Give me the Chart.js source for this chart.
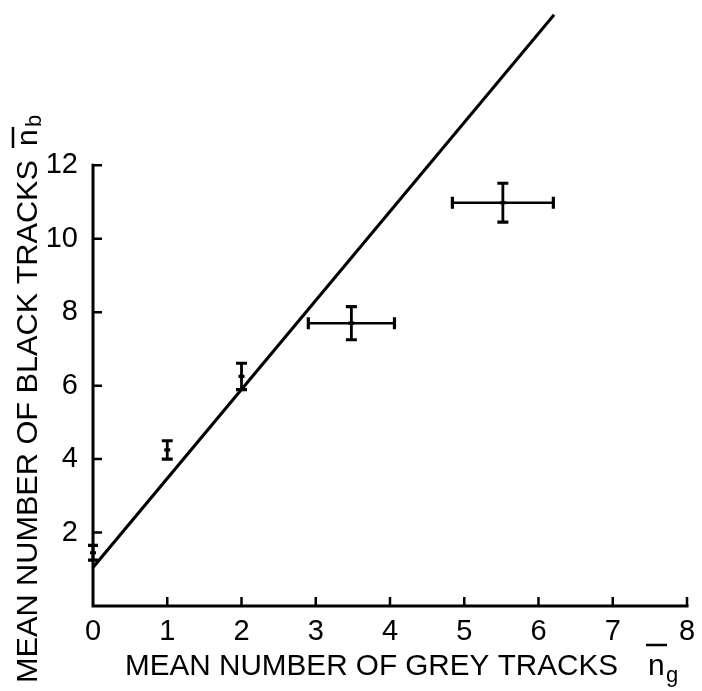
<!DOCTYPE html>
<html>
<head>
<meta charset="utf-8">
<title>Black vs grey tracks</title>
<script src="https://cdn.jsdelivr.net/npm/chart.js@4.4.1/dist/chart.umd.min.js"></script>
<style>
  html, body { margin: 0; padding: 0; background: #fff; }
  #wrap { position: absolute; left: 0; top: 0; width: 702px; height: 691px; }
</style>
</head>
<body>
<div id="wrap"><canvas id="c"></canvas></div>
<script>
// Mean number of grey tracks (x) and black tracks (y), with errors
const ngMean = [0, 1, 2, 3.48, 5.52];
const nbMean = [1.45, 4.25, 6.25, 7.7, 10.98];
const ngErr  = [0, 0, 0, 0.58, 0.68];
const nbErr  = [0.2, 0.25, 0.36, 0.45, 0.53];

// Straight-line fit, end points
const fitNg = [0, 6.21];
const fitNb = [1.05, 16.1];

// Axis ticks
const xTicks = [0, 1, 2, 3, 4, 5, 6, 7, 8];
const yTicks = [2, 4, 6, 8, 10, 12];
const yAxisTop = 12;

const xTitle = 'MEAN NUMBER OF GREY TRACKS';
const yTitle = 'MEAN NUMBER OF BLACK TRACKS';

const INK = '#000';
const FONT = '"Liberation Sans", "DejaVu Sans", sans-serif';

function fitText(ctx, text, targetWidth) {
  const w = ctx.measureText(text).width;
  ctx.save();
  ctx.scale(targetWidth / w, 1);
  ctx.fillText(text, 0, 0);
  ctx.restore();
}

const paperPlugin = {
  id: 'paper',
  beforeDraw(chart) {
    const ctx = chart.ctx;
    ctx.save();
    ctx.fillStyle = '#fff';
    ctx.fillRect(0, 0, chart.width, chart.height);
    ctx.restore();
  }
};

// Axis lines with inward ticks
const axesPlugin = {
  id: 'axesLines',
  afterDraw(chart) {
    const ctx = chart.ctx;
    const xs = chart.scales.x, ys = chart.scales.y;
    const x0 = xs.getPixelForValue(0), y0 = ys.getPixelForValue(0);
    ctx.save();
    ctx.strokeStyle = INK;
    ctx.lineWidth = 3;
    ctx.lineCap = 'square';
    ctx.beginPath();
    ctx.moveTo(x0, ys.getPixelForValue(yAxisTop));
    ctx.lineTo(x0, y0);
    ctx.lineTo(xs.getPixelForValue(xTicks[xTicks.length - 1]), y0);
    ctx.stroke();
    ctx.lineWidth = 2.5;
    ctx.lineCap = 'butt';
    ctx.beginPath();
    xTicks.slice(1).forEach(v => {
      const px = xs.getPixelForValue(v);
      ctx.moveTo(px, y0);
      ctx.lineTo(px, y0 - 9);
    });
    yTicks.forEach(v => {
      const py = ys.getPixelForValue(v);
      ctx.moveTo(x0, py);
      ctx.lineTo(x0 + 9, py);
    });
    ctx.stroke();
    ctx.restore();
  }
};

// Error bars for every measured point
const errorBarPlugin = {
  id: 'errorBars',
  afterDatasetsDraw(chart) {
    const ctx = chart.ctx;
    const xs = chart.scales.x, ys = chart.scales.y;
    ctx.save();
    ctx.strokeStyle = INK;
    ctx.lineCap = 'butt';
    ngMean.forEach((ng, i) => {
      const px = xs.getPixelForValue(ng);
      const py = ys.getPixelForValue(nbMean[i]);
      const top = ys.getPixelForValue(nbMean[i] + nbErr[i]);
      const bot = ys.getPixelForValue(nbMean[i] - nbErr[i]);
      const cap = ng === 0 ? 5 : 5.5;
      ctx.lineWidth = 2.8;
      ctx.beginPath();
      ctx.moveTo(px, top); ctx.lineTo(px, bot);
      ctx.stroke();
      ctx.lineWidth = 3.2;
      ctx.beginPath();
      ctx.moveTo(px - cap, top); ctx.lineTo(px + cap, top);
      ctx.moveTo(px - cap, bot); ctx.lineTo(px + cap, bot);
      ctx.moveTo(px - 3, py); ctx.lineTo(px + 3, py);
      ctx.stroke();
      if (ngErr[i] > 0) {
        const l = xs.getPixelForValue(ng - ngErr[i]);
        const r = xs.getPixelForValue(ng + ngErr[i]);
        ctx.lineWidth = 2.6;
        ctx.beginPath();
        ctx.moveTo(l, py); ctx.lineTo(r, py);
        ctx.stroke();
        ctx.lineWidth = 3.2;
        ctx.beginPath();
        ctx.moveTo(l, py - 6); ctx.lineTo(l, py + 6);
        ctx.moveTo(r, py - 6); ctx.lineTo(r, py + 6);
        ctx.stroke();
      }
    });
    ctx.restore();
  }
};

// Axis titles with barred symbols and subscripts
const titlesPlugin = {
  id: 'axisTitles',
  afterDraw(chart) {
    const ctx = chart.ctx;
    ctx.save();
    ctx.fillStyle = INK;
    ctx.strokeStyle = INK;
    ctx.textAlign = 'left';
    ctx.textBaseline = 'alphabetic';

    // x title
    ctx.font = '30px ' + FONT;
    ctx.save();
    ctx.translate(125, 675);
    fitText(ctx, xTitle, 493);
    ctx.restore();
    ctx.fillText('n', 648, 675);
    ctx.lineWidth = 2.5;
    ctx.beginPath();
    ctx.moveTo(646, 645); ctx.lineTo(667, 645);
    ctx.stroke();
    ctx.font = '22px ' + FONT;
    ctx.fillText('g', 666, 682);

    // y title
    ctx.save();
    ctx.translate(37, 683);
    ctx.rotate(-Math.PI / 2);
    ctx.font = '30px ' + FONT;
    fitText(ctx, yTitle, 523);
    ctx.fillText('n', 537, 0);
    ctx.lineWidth = 2.5;
    ctx.beginPath();
    ctx.moveTo(535, -24); ctx.lineTo(556, -24);
    ctx.stroke();
    ctx.font = '22px ' + FONT;
    ctx.fillText('b', 556, 4);
    ctx.restore();

    ctx.restore();
  }
};

new Chart(document.getElementById('c'), {
  type: 'scatter',
  data: {
    datasets: [
      {
        label: 'fit',
        type: 'line',
        data: fitNg.map((x, i) => ({ x, y: fitNb[i] })),
        borderColor: INK,
        borderWidth: 3,
        pointRadius: 0,
        fill: false,
        tension: 0
      },
      {
        label: 'measured',
        data: ngMean.map((x, i) => ({ x, y: nbMean[i] })),
        pointRadius: 0,
        backgroundColor: INK,
        borderColor: INK
      }
    ]
  },
  options: {
    responsive: true,
    maintainAspectRatio: false,
    devicePixelRatio: 1,
    animation: false,
    events: [],
    layout: { padding: { left: 0, right: 15, top: 0, bottom: 0 } },
    plugins: {
      legend: { display: false },
      tooltip: { enabled: false },
      title: { display: false }
    },
    scales: {
      x: {
        type: 'linear',
        min: 0,
        max: 8,
        afterBuildTicks(scale) { scale.ticks = xTicks.map(v => ({ value: v })); },
        afterFit(scale) {
          scale.height = 85;
          scale.paddingLeft = 0; scale.paddingRight = 0;
        },
        grid: { display: false, drawTicks: false },
        border: { display: false },
        ticks: {
          autoSkip: false,
          maxRotation: 0,
          padding: 9,
          color: INK,
          font: { family: FONT, size: 29 },
          callback: v => String(v)
        }
      },
      y: {
        type: 'linear',
        min: 0,
        max: 16.5,
        afterBuildTicks(scale) { scale.ticks = yTicks.map(v => ({ value: v })); },
        afterFit(scale) {
          scale.width = 93;
          scale.paddingTop = 0; scale.paddingBottom = 0;
        },
        grid: { display: false, drawTicks: false },
        border: { display: false },
        ticks: {
          autoSkip: false,
          padding: 15,
          color: INK,
          font: { family: FONT, size: 29 },
          callback: v => String(v)
        }
      }
    }
  },
  plugins: [paperPlugin, axesPlugin, errorBarPlugin, titlesPlugin]
});
</script>
</body>
</html>
